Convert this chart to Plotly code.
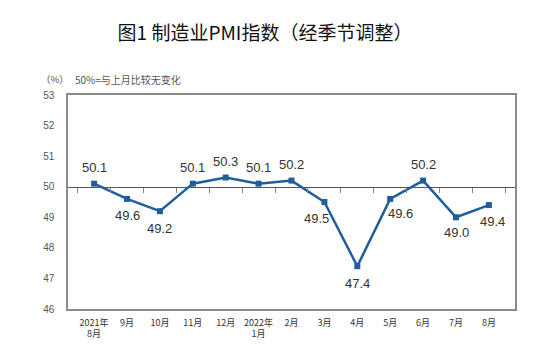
import plotly.graph_objects as go

categories = ["2021年<br>8月", "9月", "10月", "11月", "12月", "2022年<br>1月",
              "2月", "3月", "4月", "5月", "6月", "7月", "8月"]
pmi = [50.1, 49.6, 49.2, 50.1, 50.3, 50.1, 50.2, 49.5, 47.4, 49.6, 50.2, 49.0, 49.4]
y_ticks = [46, 47, 48, 49, 50, 51, 52, 53]

# label placement (style): shift in px relative to each point
label_dx = [0, 0, 0, 0, 0, 0, 0, -8, 0, 10, 0, 0, 4]
label_dy = [16, -17, -17, 16, 16, 16, 16, -16, -17, -15, 16, -15, -16]

LINE = "#1f5d9c"
FONT = "Liberation Sans, Arial, sans-serif"

W, H = 551, 350  # page body has an 8px margin

fig = go.Figure()
fig.add_trace(go.Scatter(
    x=categories, y=pmi, mode="lines+markers",
    line=dict(color=LINE, width=2.5),
    marker=dict(symbol="square", size=6, color=LINE),
    hoverinfo="x+y", showlegend=False,
))
# helper trace on the crossing axis (ticks at 50)
fig.add_trace(go.Scatter(x=categories, y=pmi, xaxis="x2", mode="markers",
                         marker=dict(opacity=0), showlegend=False, hoverinfo="skip"))

for c, v, dx, dy in zip(categories, pmi, label_dx, label_dy):
    fig.add_annotation(x=c, y=v, text=f"{v:.1f}", showarrow=False,
                       xshift=dx, yshift=dy,
                       font=dict(family=FONT, size=13, color="#333333"))

fig.update_layout(
    width=W, height=H,
    margin=dict(l=60, r=44, t=87, b=49, autoexpand=False),
    paper_bgcolor="white", plot_bgcolor="white",
    title=dict(text="图1 制造业PMI指数（经季节调整）", x=257 / W, xanchor="center",
               y=1 - 25 / H, yanchor="middle",
               font=dict(family="Noto Sans CJK SC", size=19, color="#111111")),
    xaxis=dict(type="category", showgrid=False, showline=True, mirror=True,
               linecolor="#8a8a8a", linewidth=1.5, ticks="",
               tickfont=dict(family="Noto Sans CJK SC", size=9, color="#333333"),
               ticklabelstandoff=4, zeroline=False),
    xaxis2=dict(type="category", overlaying="x", anchor="free", position=4 / 7,
                showline=True, linecolor="#555555", linewidth=1.2,
                ticks="outside", tickson="boundaries", ticklen=5, tickcolor="#888888",
                showticklabels=False, showgrid=False, zeroline=False,
                matches="x"),
    yaxis=dict(range=[46, 53], tickvals=y_ticks, showgrid=False, showline=True,
               mirror=True, linecolor="#8a8a8a", linewidth=1.5, ticks="",
               tickfont=dict(family=FONT, size=10, color="#555555"),
               ticklabelstandoff=10, zeroline=False),
)

fig.add_annotation(xref="paper", yref="paper", x=-29 / 447, y=1 + 16 / 214,
                   xanchor="left", yanchor="middle", showarrow=False,
                   text="（%）", font=dict(family="Noto Sans CJK SC", size=9.5, color="#555555"))
fig.add_annotation(xref="paper", yref="paper", x=5 / 447, y=1 + 16 / 214,
                   xanchor="left", yanchor="middle", showarrow=False,
                   text="50%=与上月比较无变化",
                   font=dict(family="Noto Sans CJK SC", size=10, color="#555555"))

fig.write_html("out.html")
